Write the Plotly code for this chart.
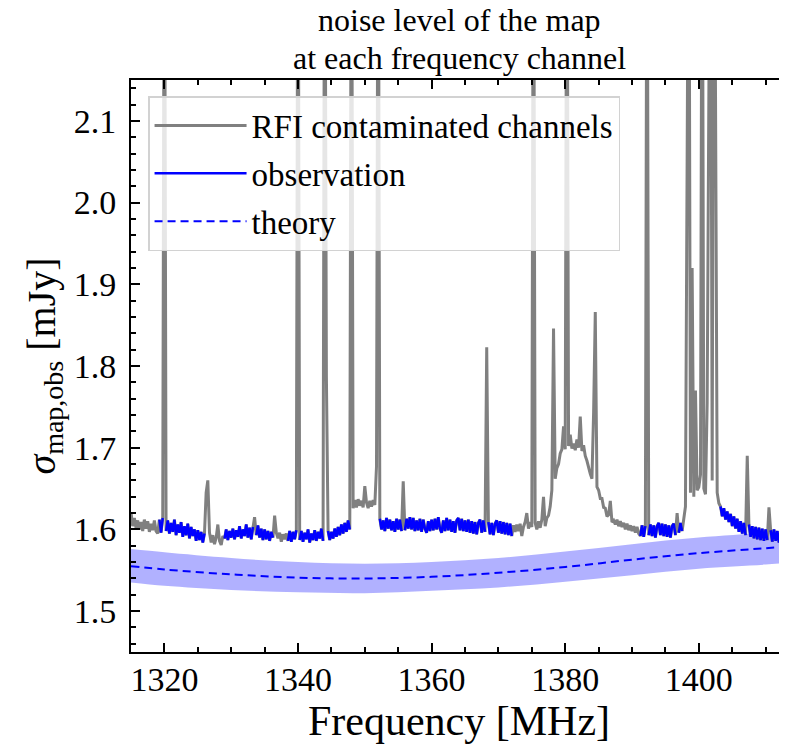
import numpy as np
import plotly.graph_objects as go

# channel grid, 0.25 MHz spacing
freq = np.round(np.arange(1315.0, 1413.001, 0.25), 2)

# map noise per channel [mJy] (2.5 = spike off the top)
sigma = [
    # 1315.0
    1.621, 1.604, 1.614, 1.602, 1.611, 1.600, 1.609, 1.598, 1.612, 1.601,
    1.610, 1.597, 1.607, 1.599, 1.611, 1.598, 1.595, 1.612, 1.596, 1.614,
    # 1320.0
    2.5, 1.598, 1.611, 1.595, 1.608, 1.597, 1.612, 1.593, 1.606, 1.596,
    1.609, 1.591, 1.604, 1.593, 1.607, 1.589, 1.603, 1.592, 1.600, 1.586,
    # 1325.0
    1.599, 1.587, 1.597, 1.584, 1.595, 1.645, 1.660, 1.596, 1.584, 1.593,
    1.582, 1.590, 1.606, 1.586, 1.581, 1.592, 1.589, 1.600, 1.587, 1.598,
    # 1330.0
    1.590, 1.601, 1.588, 1.599, 1.591, 1.604, 1.589, 1.600, 1.592, 1.606,
    1.590, 1.602, 1.588, 1.603, 1.615, 1.593, 1.605, 1.590, 1.601, 1.587,
    # 1335.0
    1.600, 1.588, 1.598, 1.586, 1.597, 1.590, 1.617, 1.596, 1.589, 1.596,
    1.585, 1.594, 1.588, 1.595, 1.586, 1.598, 1.585, 1.597, 1.588, 1.599,
    # 1340.0
    2.5, 1.587, 1.598, 1.585, 1.596, 1.588, 1.600, 1.584, 1.595, 1.587,
    1.599, 1.586, 1.597, 1.589, 1.601, 1.586, 2.5, 1.786, 1.598, 1.587,
    # 1345.0
    1.597, 1.589, 1.601, 1.591, 1.603, 1.593, 1.606, 1.595, 1.608, 1.597,
    1.611, 1.600, 2.5, 1.626, 1.636, 1.627, 1.637, 1.629, 1.635, 1.627,
    # 1350.0
    1.653, 1.633, 1.626, 1.635, 1.628, 1.636, 1.630, 1.677, 2.5, 1.613,
    1.600, 1.611, 1.598, 1.614, 1.601, 1.612, 1.599, 1.610, 1.597, 1.613,
    # 1355.0
    1.600, 1.612, 1.598, 1.659, 1.599, 1.613, 1.601, 1.615, 1.600, 1.614,
    1.598, 1.611, 1.599, 1.613, 1.597, 1.612, 1.601, 1.596, 1.610, 1.598,
    # 1360.0
    1.612, 1.599, 1.613, 1.600, 1.615, 1.601, 1.596, 1.611, 1.598, 1.614,
    1.599, 1.612, 1.597, 1.610, 1.596, 1.611, 1.614, 1.599, 1.613, 1.598,
    # 1365.0
    1.611, 1.597, 1.612, 1.596, 1.610, 1.595, 1.609, 1.594, 1.608, 1.612,
    1.596, 1.611, 1.597, 1.823, 1.609, 1.594, 1.608, 1.593, 1.607, 1.611,
    # 1370.0
    1.596, 1.610, 1.595, 1.609, 1.594, 1.608, 1.593, 1.607, 1.592, 1.605,
    1.597, 1.606, 1.598, 1.607, 1.592, 1.603, 1.609, 1.620, 1.601, 1.609,
    # 1375.0
    1.603, 2.5, 1.608, 1.600, 1.610, 1.602, 1.612, 1.640, 1.604, 1.614,
    1.617, 1.628, 1.648, 1.846, 1.662, 1.675, 1.680, 1.693, 1.698, 1.726,
    # 1380.0
    1.698, 2.5, 1.702, 1.716, 1.699, 1.705, 1.697, 1.710, 1.700, 1.738,
    1.696, 1.703, 1.690, 1.684, 1.675, 1.668, 1.662, 1.743, 1.866, 1.652,
    # 1385.0
    1.648, 1.638, 1.638, 1.627, 1.626, 1.616, 1.618, 1.635, 1.609, 1.611,
    1.606, 1.612, 1.604, 1.610, 1.603, 1.608, 1.600, 1.607, 1.599, 1.605,
    # 1390.0
    1.598, 1.604, 1.596, 1.603, 1.595, 1.592, 1.605, 1.591, 1.604, 2.5,
    1.593, 1.606, 1.592, 1.605, 1.590, 1.604, 1.608, 1.593, 1.607, 1.592,
    # 1395.0
    1.606, 1.591, 1.605, 1.590, 1.604, 1.607, 1.593, 1.620, 1.596, 1.608,
    1.598, 1.615, 1.628, 2.05, 2.5, 1.645, 1.920, 1.640, 1.770, 1.648,
    # 1400.0
    1.652, 1.667, 2.5, 1.650, 1.643, 1.755, 2.11, 2.5, 1.660, 2.5,
    2.13, 1.645, 1.632, 1.628, 1.616, 1.626, 1.612, 1.622, 1.609, 1.619,
    # 1405.0
    1.604, 1.616, 1.601, 1.613, 1.597, 1.610, 1.595, 1.608, 1.593, 1.690,
    1.606, 1.591, 1.604, 1.589, 1.603, 1.588, 1.602, 1.587, 1.601, 1.586,
    # 1410.0
    1.600, 1.587, 1.627, 1.599, 1.585, 1.600, 1.586, 1.598, 1.584, 1.599,
    1.586, 1.598, 1.587,
]

# clean (non-RFI) frequency ranges and single flagged channels inside them
clean_ranges = [(1319.25, 1326.0), (1329.0, 1336.75), (1338.5, 1347.75),
                (1352.25, 1372.0), (1391.25, 1397.5), (1403.25, 1413.0)]
rfi_channels = [1320.0, 1333.5, 1336.5, 1340.0, 1344.0, 1344.25, 1355.75,
                1368.25, 1392.25, 1396.75, 1407.25, 1410.5]

# theoretical noise with its uncertainty band
theory_freq = [1315, 1320, 1330, 1340, 1350, 1360, 1370, 1380, 1390, 1400, 1410, 1413.2]
theory = [1.555, 1.551, 1.545, 1.541, 1.540, 1.542, 1.547, 1.554, 1.563, 1.571, 1.577, 1.579]
theory_upper = [1.576, 1.572, 1.565, 1.560, 1.558, 1.560, 1.565, 1.573, 1.582, 1.590, 1.596, 1.598]
theory_lower = [1.535, 1.531, 1.526, 1.523, 1.522, 1.525, 1.529, 1.536, 1.544, 1.552, 1.557, 1.559]

title_lines = ["noise level of the map", "at each frequency channel"]


def is_clean(f):
    if f in rfi_channels:
        return False
    return any(a <= f <= b for a, b in clean_ranges)


obs = [s if is_clean(f) else None for f, s in zip(freq, sigma)]

FONT = "Liberation Serif"

fig = go.Figure()
fig.add_trace(go.Scatter(x=theory_freq, y=theory_upper, mode="lines", line=dict(width=0, shape="spline"),
                         showlegend=False, hoverinfo="skip"))
fig.add_trace(go.Scatter(x=theory_freq, y=theory_lower, mode="lines", line=dict(width=0, shape="spline"),
                         fill="tonexty", fillcolor="rgba(40,40,255,0.36)", showlegend=False, hoverinfo="skip"))
fig.add_trace(go.Scatter(x=theory_freq, y=theory, mode="lines", name="theory", legendrank=3,
                         legendgroup="c", line=dict(color="blue", width=2, dash="8px,5px", shape="spline")))
fig.add_trace(go.Scatter(x=freq, y=sigma, mode="lines", name="RFI contaminated channels", legendrank=1,
                         legendgroup="a", line=dict(color="gray", width=3)))
fig.add_trace(go.Scatter(x=freq, y=obs, mode="lines", name="observation", legendrank=2,
                         legendgroup="b", connectgaps=False, line=dict(color="blue", width=2.5)))

axis_common = dict(
    showline=True, linecolor="black", linewidth=2, ticks="inside", tickcolor="black",
    ticklen=9, tickwidth=2, showgrid=False, zeroline=False, automargin=False,
    tickfont=dict(family=FONT, size=34, color="black"),
)

fig.update_xaxes(
    range=[1315, 1413.2], dtick=20, tick0=1320, mirror="ticks", ticklabelstandoff=-4,
    minor=dict(dtick=5, tick0=1320, ticks="inside", ticklen=5, tickwidth=1.5, tickcolor="black"),
    title=dict(text="Frequency [MHz]", font=dict(family=FONT, size=42, color="black"), standoff=0),
    **axis_common,
)
fig.update_yaxes(
    range=[1.45, 2.15], dtick=0.1, tick0=1.5, tickformat=".1f", mirror=False, ticklabelstandoff=6,
    minor=dict(dtick=0.02, tick0=1.5, ticks="inside", ticklen=5, tickwidth=1.5, tickcolor="black"),
    title=dict(text="<i>σ</i><sub>map,obs</sub> [mJy]", font=dict(family=FONT, size=40, color="black"),
               standoff=6),
    **axis_common,
)

# two-line title, one annotation per line
for line, shift in zip(title_lines, [60, 22]):
    fig.add_annotation(text=line, xref="paper", yref="paper", x=0.5, y=1, xanchor="center",
                       yanchor="middle", yshift=shift, showarrow=False,
                       font=dict(family=FONT, size=32, color="black"))

# the page body adds an 8px offset, so the figure is sized to the remaining window
fig.update_layout(
    width=779, height=736,
    margin=dict(l=123, r=0, t=72, b=92, autoexpand=False),
    paper_bgcolor="white", plot_bgcolor="white",
    legend=dict(x=0.026, y=0.972, xanchor="left", yanchor="top", bgcolor="rgba(255,255,255,0.8)",
                bordercolor="rgb(210,210,210)", borderwidth=1.5, traceorder="grouped", tracegroupgap=2,
                font=dict(family=FONT, size=33, color="black"), itemwidth=92),
    showlegend=True,
)

fig.write_html("out.html")
